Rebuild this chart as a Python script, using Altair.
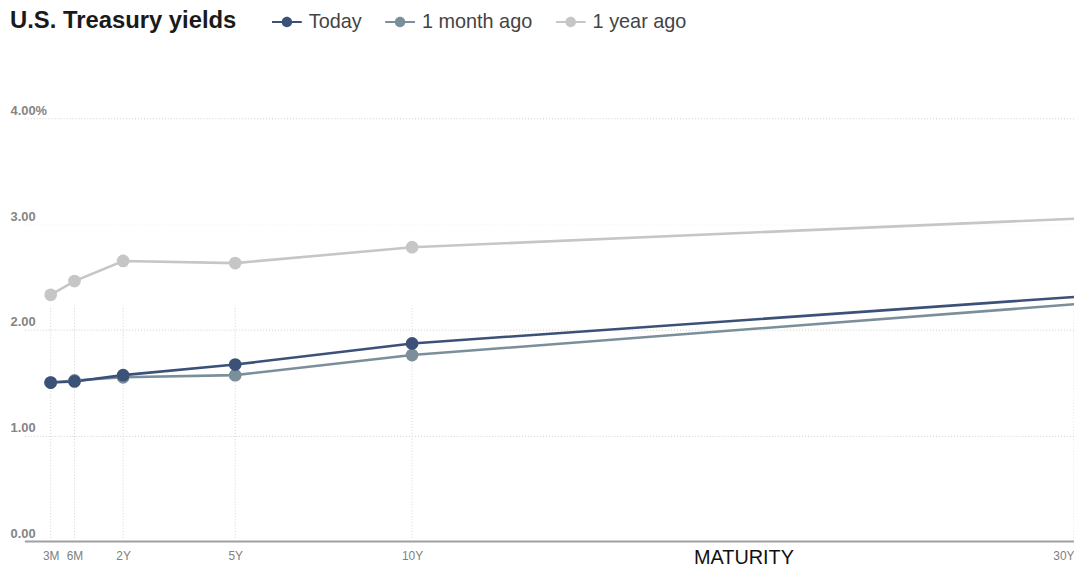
import altair as alt
import pandas as pd

# ---- data ----
maturities = ["3M", "6M", "2Y", "5Y", "10Y", "30Y"]
years = [0.25, 0.5, 2, 5, 10, 30]
series = ["Today", "1 month ago", "1 year ago"]
today = [1.50, 1.51, 1.57, 1.67, 1.87, 2.31]
month_ago = [1.50, 1.52, 1.55, 1.57, 1.76, 2.24]
year_ago = [2.33, 2.46, 2.65, 2.63, 2.78, 3.05]
y_ticks = [0, 1, 2, 3, 4]

colors = ["#3b5178", "#7b8f9b", "#c6c6c6"]

rows = []
# draw order: oldest first so "Today" ends up on top
for s, vals in [("1 year ago", year_ago), ("1 month ago", month_ago), ("Today", today)]:
    for m, yr, v in zip(maturities, years, vals):
        rows.append({"series": s, "maturity": m, "years": yr, "yield": v})
df = pd.DataFrame(rows)
ticks_df = pd.DataFrame({"years": years, "maturity": maturities})

x_label_expr = " : ".join(
    [f"datum.value == {y} ? '{m}'" for y, m in zip(years, maturities)]
) + " : ''"

PLOT_W = 1072
PLOT_H = 426

# maturity axis: short end stretched, long end slightly compressed (piecewise power scale)
x_scale = alt.Scale(type="pow", exponent=0.93, domain=[0, 0.5, 2, 30],
                    range=[14.5, 65, 114, PLOT_W], nice=False, zero=False)
y_scale = alt.Scale(domain=[0, 4], nice=False)

x_axis = alt.Axis(
    values=years, labelExpr=x_label_expr, grid=False, ticks=False,
    domain=True, domainColor="#a0a0a0", domainWidth=2,
    labelColor="#808080", labelFontSize=12, labelPadding=10, labelFlush=True,
    labelOverlap=False,
    title="MATURITY", titleFontSize=20, titleFontWeight="normal", titleColor="#111111",
    titleX=739, titleY=23, titleAlign="center", titleBaseline="alphabetic",
)
y_axis = alt.Axis(
    values=y_ticks,
    labelExpr="datum.value == 4 ? '4.00%' : format(datum.value, '.2f')",
    domain=False, ticks=False, grid=True,
    gridColor={"condition": {"test": "datum.value == 3", "value": "#f0f0f0"}, "value": "#cfcfcf"},
    gridDash=[1, 2], gridWidth=1,
    labelAlign="left", labelBaseline="alphabetic", labelOffset=-4, labelPadding=0,
    labelColor="#858585", labelFontSize=13, labelFontWeight="bold", labelOverlap=False,
    title=None,
)

color_scale = alt.Scale(domain=series, range=colors)

legend_symbol = (
    "M-1,-0.07H1V0.07H-1Z "
    "M0.35,0A0.35,0.35 0 1,1 -0.35,0A0.35,0.35 0 1,1 0.35,0Z"
)
legend = alt.Legend(
    title=None, orient="none", legendX=264, legendY=-112,
    direction="horizontal", columns=3,
    symbolType=legend_symbol, symbolSize=900, symbolStrokeWidth=0,
    labelFontSize=20, labelColor="#444444", labelOffset=7,
    columnPadding=23, padding=0,
)

vgrid = alt.Chart(ticks_df).mark_rule(color="#d4d4d4", strokeDash=[1, 2], strokeWidth=1).encode(
    x=alt.X("years:Q", scale=x_scale, axis=x_axis),
    y=alt.datum(0, scale=y_scale, axis=y_axis),
    y2=alt.datum(2.23),
)

lines = alt.Chart(df).mark_line(strokeWidth=2.6, clip=True).encode(
    x=alt.X("years:Q", scale=x_scale, axis=x_axis),
    y=alt.Y("yield:Q", scale=y_scale, axis=y_axis),
    color=alt.Color("series:N", scale=color_scale, legend=legend),
)

points = alt.Chart(df).transform_filter("datum.years < 30").mark_point(
    filled=True, size=165, opacity=1
).encode(
    x=alt.X("years:Q", scale=x_scale, axis=x_axis),
    y=alt.Y("yield:Q", scale=y_scale, axis=y_axis),
    color=alt.Color("series:N", scale=color_scale, legend=legend),
)

chart = alt.layer(vgrid, lines, points).properties(
    width=PLOT_W,
    height=PLOT_H,
    title=alt.TitleParams(
        text="U.S. Treasury yields", fontSize=24, fontWeight="bold", color="#1a1a1a",
        anchor="start", frame="group", baseline="alphabetic", offset=-45,
    ),
    padding={"left": 2, "top": 109, "right": 0, "bottom": 24},
    autosize=alt.AutoSizeParams(type="none"),
).configure(font="Liberation Sans", background="white").configure_view(stroke=None)

chart.save("out.html", embed_options={"renderer": "svg", "actions": False})
